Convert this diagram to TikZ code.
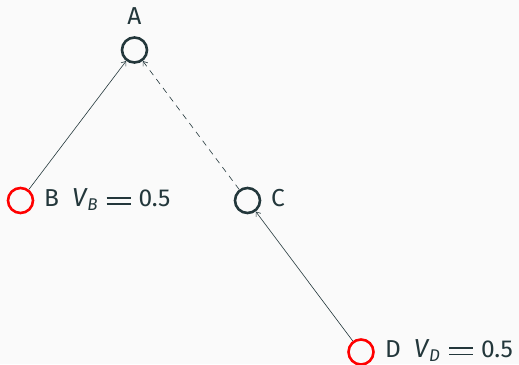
\documentclass[tikz,border=0pt]{standalone}
\usepackage{fontspec}
\setmainfont{Fira Sans}
\usetikzlibrary{arrows.meta}
\newcommand\eqbar{\rule[1.8pt]{24pt}{1.7pt}\kern-24pt\rule[8.4pt]{24pt}{1.7pt}}
\newcommand\vlab[2]{#1\hspace{13pt}{\fontsize{26}{28}\selectfont\textit{V}}\kern-0.5pt\raisebox{-4pt}{\fontsize{17}{19}\selectfont\textit{#2}}\hspace{9pt}\eqbar\hspace{8pt}0.5}
\begin{document}
\begin{tikzpicture}[x=1pt,y=1pt,
  every node/.style={text=dk,font=\fontsize{24.5}{28}\selectfont},
  vtx/.style={circle,draw=dk,line width=2.6pt,minimum size=25pt,inner sep=0pt},
  obs/.style={vtx,draw=red},
  lbl/.style={anchor=base west,inner sep=0pt},
  conn/.style={draw=dk,line width=0.6pt,-{Straight Barb[length=4pt,width=6pt]}},
]
\definecolor{dk}{HTML}{23373B}
\definecolor{bg}{HTML}{FAFAFA}
\fill[bg] (0,0) rectangle (519,364);
\useasboundingbox (0,0) rectangle (519,364);
\node[vtx] (A) at (134.5,314) {};
\node[obs] (B) at (20.5,163.5) {};
\node[vtx] (C) at (247.5,163.5) {};
\node[obs] (D) at (361,12) {};
\node[anchor=base,inner sep=0pt] (la) at (134.5,339) {A};
\node[lbl] (lb) at (44,157) {\vlab{B}{B}};
\node[lbl] (lc) at (271,157) {C};
\node[lbl] (ld) at (385,7) {\vlab{D}{D}};
\draw[conn] (B) -- (A);
\draw[conn,dash pattern=on 6pt off 5pt] (C) -- (A);
\draw[conn] (D) -- (C);
\end{tikzpicture}
\end{document}
